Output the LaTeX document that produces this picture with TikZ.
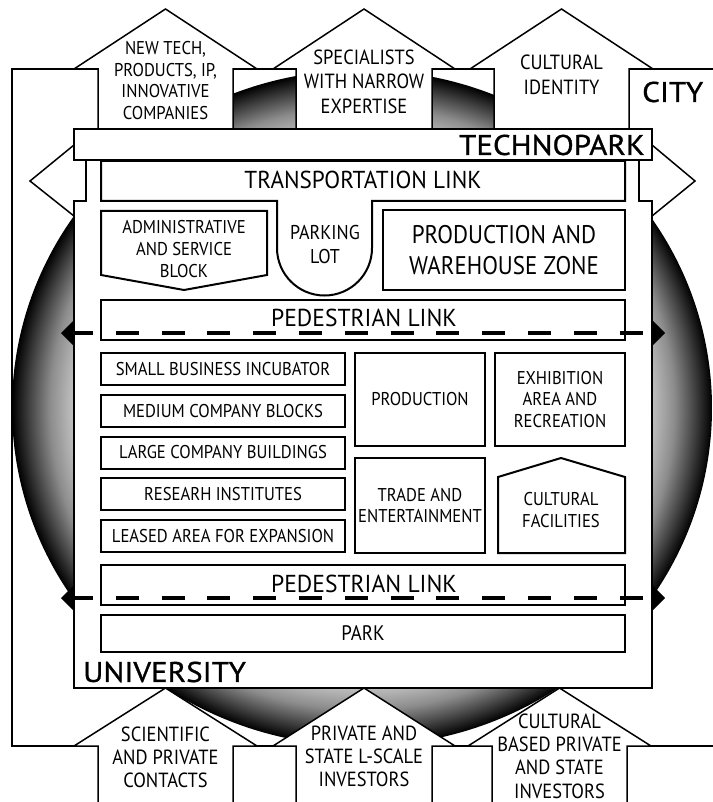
\documentclass[tikz,border=0pt]{standalone}
\usepackage{graphicx}
\usepackage{fontspec}
\setmainfont{PT Sans}[FakeStretch=0.9]
\newfontfamily\bigfont{PT Sans}[FakeStretch=1.09, FakeBold=1.0]
\pgfdeclareradialshading{sphereshade}{\pgfpoint{0bp}{0bp}}{color(0bp)=(white); color(14bp)=(white!95!black); color(20.5bp)=(white!77!black); color(22.3bp)=(white!55!black); color(23.8bp)=(white!25!black); color(25bp)=(black); color(50bp)=(black)}
\newcommand\tpsm{\fontsize{18.5}{21.8}\selectfont}
\newcommand\tphs{\fontsize{20.5}{24.5}\selectfont}
\newcommand\tpbs{\fontsize{20.5}{23.3}\selectfont}
\newcommand\tplg{\bigfont\fontsize{28.5}{30}\selectfont}
\newcommand\tpmd{\fontsize{24.5}{26}\selectfont}
\tikzset{
  ln/.style={line width=1.5pt, line join=miter},
  bx/.style={line width=2pt, line join=miter},
  box/.style={draw, bx, fill=white, inner sep=0pt, align=center, font=\tpsm},
  lbl/.style={inner sep=0pt, align=center, font=\tpsm},
  dashline/.style={line width=3.3pt, dash pattern=on 23pt off 22.8pt},
}
\begin{document}
\begin{tikzpicture}[x=1pt,y=-1pt]
\useasboundingbox (0,0) rectangle (712,802);
% sphere
\shade[shading=sphereshade] (362,408) ellipse [x radius=350, y radius=338];
% city frame
\draw[ln] (716,69) -- (12,69) -- (12,746) -- (716,746);
% top houses
\filldraw[ln, fill=white] (98,140) -- (98,69) -- (74,69) -- (165.5,9) -- (257,69) -- (233,69) -- (233,140) -- cycle;
\filldraw[ln, fill=white] (296,140) -- (296,69) -- (273,69) -- (364,9) -- (455,69) -- (432,69) -- (432,140) -- cycle;
\filldraw[ln, fill=white] (494,140) -- (494,69) -- (470,69) -- (561.5,9) -- (653,69) -- (629,69) -- (629,140) -- cycle;
% bottom houses
\filldraw[ln, fill=white] (98,812) -- (98,746) -- (74,746) -- (165.5,688) -- (257,746) -- (233,746) -- (233,812) -- cycle;
\filldraw[ln, fill=white] (296,812) -- (296,746) -- (273,746) -- (364,688) -- (455,746) -- (432,746) -- (432,812) -- cycle;
\filldraw[ln, fill=white] (492,812) -- (492,746) -- (468,746) -- (559.5,688) -- (651,746) -- (627,746) -- (627,812) -- cycle;
% technopark arrow heads
\filldraw[ln, fill=white] (74,145) -- (30,181) -- (74,216);
\filldraw[ln, fill=white] (652,145) -- (695,181) -- (652,216);
% body
\filldraw[ln, fill=white] (86,150) -- (86,201) -- (74,201) -- (74,688) -- (652,688) -- (652,201) -- (639,201) -- (639,150) -- cycle;
% header
\filldraw[ln, fill=white] (74,129) rectangle (652,160);
% transportation link + parking
\filldraw[bx, fill=white] (101,161) -- (625,161) -- (625,201) -- (372,201) -- (372,248) arc[start angle=0, end angle=180, radius=47.5] -- (277,201) -- (101,201) -- cycle;
% admin block
\filldraw[bx, fill=white] (101,211) -- (267,211) -- (267,275) -- (184,290) -- (101,275) -- cycle;
% cultural facilities
\filldraw[bx, fill=white] (498,477) -- (561,458) -- (625,477) -- (625,553) -- (498,553) -- cycle;
% boxes
\node[box, minimum width=242, minimum height=80, font=\fontsize{25.5}{31}\selectfont] (pw) at (504,250) {PRODUCTION AND\\WAREHOUSE ZONE};
\node[box, minimum width=524, minimum height=40] (ped1) at (363,320) {};
\node[box, minimum width=244, minimum height=32] (sbi) at (223,369) {SMALL BUSINESS INCUBATOR};
\node[box, minimum width=244, minimum height=32] (mcb) at (223,411) {MEDIUM COMPANY BLOCKS};
\node[box, minimum width=244, minimum height=32] (lcb) at (223,452.5) {LARGE COMPANY BUILDINGS};
\node[box, minimum width=244, minimum height=32] (ri) at (223,494) {RESEARH INSTITUTES};
\node[box, minimum width=244, minimum height=32] (lae) at (223,536) {LEASED AREA FOR EXPANSION};
\node[box, minimum width=130, minimum height=93] (prod) at (420,399.5) {PRODUCTION};
\node[box, minimum width=130, minimum height=93, font=\fontsize{18.5}{21.5}\selectfont] (exh) at (560,399.5) {EXHIBITION\\AREA AND\\RECREATION};
\node[box, minimum width=130, minimum height=95, font=\fontsize{18.5}{21}\selectfont] (trade) at (420,505.5) {TRADE AND\\ENTERTAINMENT};
\node[box, minimum width=524, minimum height=40] (ped2) at (363,585) {};
\node[box, minimum width=524, minimum height=37, font=\fontsize{21}{22}\selectfont] (park) at (363,633.5) {PARK};
% labels
\node[lbl] (h1t) at (165.5,80.5) {NEW TECH,\\PRODUCTS, IP,\\INNOVATIVE\\COMPANIES};
\node[lbl, font=\tphs] (h2t) at (364,81.5) {SPECIALISTS\\WITH NARROW\\EXPERTISE};
\node[lbl, font=\tphs] (h3t) at (561.5,75) {CULTURAL\\IDENTITY};
\node[lbl, font=\tplg, anchor=west] (city) at (642,92) {CITY};
\node[lbl, font=\tplg, anchor=east] (tpk) at (645,145) {TECHNOPARK};
\node[lbl, font=\tpmd] (trl) at (363,180) {\scalebox{1.05}[1]{TRANSPORTATION LINK}};
\node[lbl, font=\fontsize{18.5}{22}\selectfont] (adm) at (184,249) {ADMINISTRATIVE\\AND SERVICE\\BLOCK};
\node[lbl, font=\fontsize{20}{24}\selectfont] (pkl) at (325,244) {PARKING\\LOT};
\node[lbl, font=\tpmd] (ped1t) at (364,318) {\scalebox{1.07}[1]{PEDESTRIAN LINK}};
\node[lbl, font=\fontsize{18.5}{22}\selectfont] (cft) at (561,510) {CULTURAL\\FACILITIES};
\node[lbl, font=\tpmd] (ped2t) at (364,584) {\scalebox{1.07}[1]{PEDESTRIAN LINK}};
\node[lbl, font=\tplg, anchor=west] (uni) at (83,672) {UNIVERSITY};
\node[lbl, font=\tpbs] (b1t) at (165.5,757.5) {SCIENTIFIC\\AND PRIVATE\\CONTACTS};
\node[lbl, font=\tpbs] (b2t) at (364,756.5) {PRIVATE AND\\STATE L-SCALE\\INVESTORS};
\node[lbl, font=\tpbs] (b3t) at (559.5,756) {CULTURAL\\BASED PRIVATE\\AND STATE\\INVESTORS};
% pedestrian dashed links
\coordinate (d1a) at (70,333);
\coordinate (d1b) at (644,333);
\coordinate (d2a) at (70,598);
\coordinate (d2b) at (644,598);
\draw[dashline] (d1a) -- (d1b);
\draw[dashline] (d2a) -- (d2b);
\fill (74,320) -- (61,333) -- (74,346) -- cycle;
\fill (652,320) -- (665,333) -- (652,346) -- cycle;
\fill (74,585) -- (61,598) -- (74,611) -- cycle;
\fill (652,585) -- (665,598) -- (652,611) -- cycle;
\end{tikzpicture}
\end{document}
